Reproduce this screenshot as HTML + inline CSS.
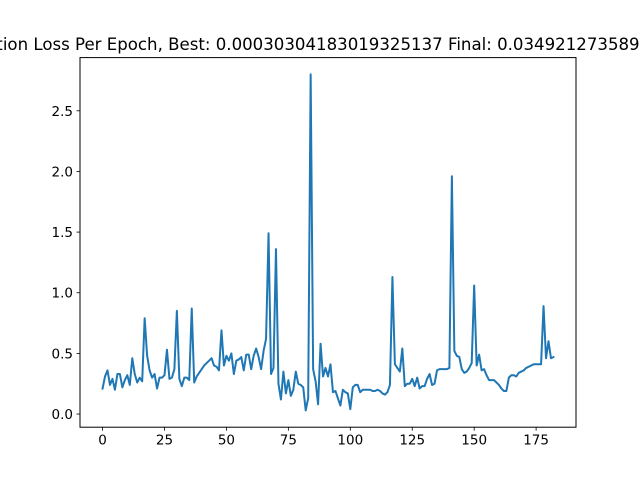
<!DOCTYPE html>
<html><head><meta charset="utf-8"><style>body{margin:0;background:#fff}svg{display:block}</style></head>
<body>
<svg id="chart" width="640" height="480" xmlns="http://www.w3.org/2000/svg" font-family="DejaVu Sans, Liberation Sans, sans-serif">
<rect width="640" height="480" fill="#fff"/>
<text x="314" y="50" font-size="16.6" text-anchor="middle" fill="#000">Validation Loss Per Epoch, Best: 0.00030304183019325137 Final: 0.0349212735891342</text>
<g id="plot"></g>
<rect x="80" y="57.6" width="496" height="369.6" fill="none" stroke="#000" stroke-width="1"/>
</svg>
<script>
const values = [0.21,0.31,0.36,0.24,0.29,0.20,0.33,0.33,0.22,0.28,0.32,0.24,0.46,0.33,0.26,0.30,0.27,0.79,0.48,0.36,0.30,0.33,0.21,0.30,0.30,0.32,0.53,0.29,0.30,0.37,0.85,0.29,0.23,0.30,0.30,0.28,0.87,0.26,0.31,0.34,0.37,0.40,0.42,0.44,0.46,0.40,0.39,0.36,0.69,0.40,0.48,0.44,0.50,0.33,0.44,0.45,0.47,0.36,0.49,0.49,0.37,0.48,0.54,0.47,0.37,0.52,0.62,1.49,0.33,0.38,1.36,0.25,0.12,0.35,0.17,0.28,0.15,0.20,0.35,0.25,0.24,0.22,0.03,0.13,2.80,0.37,0.27,0.08,0.58,0.31,0.38,0.31,0.41,0.18,0.19,0.13,0.07,0.20,0.18,0.17,0.04,0.22,0.24,0.24,0.18,0.20,0.20,0.20,0.20,0.19,0.19,0.20,0.19,0.17,0.16,0.18,0.24,1.13,0.41,0.38,0.35,0.54,0.23,0.25,0.25,0.29,0.23,0.30,0.21,0.23,0.23,0.29,0.33,0.24,0.25,0.36,0.37,0.37,0.37,0.37,0.38,1.96,0.52,0.48,0.47,0.37,0.34,0.35,0.38,0.42,1.06,0.40,0.49,0.36,0.37,0.32,0.28,0.28,0.28,0.26,0.24,0.21,0.19,0.19,0.30,0.32,0.32,0.31,0.34,0.35,0.36,0.38,0.39,0.40,0.41,0.41,0.41,0.41,0.89,0.46,0.60,0.46,0.47];
const xTicks = [0,25,50,75,100,125,150,175];
const yTicks = [0.0,0.5,1.0,1.5,2.0,2.5];
const yTickLabels = ["0.0","0.5","1.0","1.5","2.0","2.5"];

const L=80,R=576,T=57.6,B=427.2;
const n=values.length;
const xmin=-0.05*(n-1), xmax=(n-1)*1.05;
const vmin=Math.min(...values), vmax=Math.max(...values), pad=(vmax-vmin)*0.05;
const ymin=vmin-pad, ymax=vmax+pad;
const sx=v=>L+(v-xmin)/(xmax-xmin)*(R-L);
const sy=v=>B-(v-ymin)/(ymax-ymin)*(B-T);
const NS="http://www.w3.org/2000/svg";
const g=document.getElementById('plot');
function mk(t,a){const e=document.createElementNS(NS,t);for(const k in a)e.setAttribute(k,a[k]);g.appendChild(e);return e;}
xTicks.forEach(t=>{
  const x=sx(t);
  const l=mk('line',{x1:x,x2:x,y1:B,y2:B+3.5,stroke:'#000','stroke-width':0.8});
  
  
  const tx=mk('text',{x:x,y:B+17.5,'font-size':13.5,'text-anchor':'middle',fill:'#000'});
  tx.textContent=String(t);
  
  
});
yTicks.forEach((t,i)=>{
  const y=sy(t);
  const l=mk('line',{x1:L-3.5,x2:L,y1:y,y2:y,stroke:'#000','stroke-width':0.8});
  
  
  const tx=mk('text',{x:L-7,y:y+5,'font-size':13.5,'text-anchor':'end',fill:'#000'});
  tx.textContent=yTickLabels[i];
  
  
});
const pts=values.map((v,i)=>sx(i).toFixed(2)+','+sy(v).toFixed(2)).join(' ');
const line=mk('polyline',{points:pts,fill:'none',stroke:'#1f77b4','stroke-width':2,'stroke-linejoin':'round','stroke-linecap':'square'});


</script>
</body></html>
